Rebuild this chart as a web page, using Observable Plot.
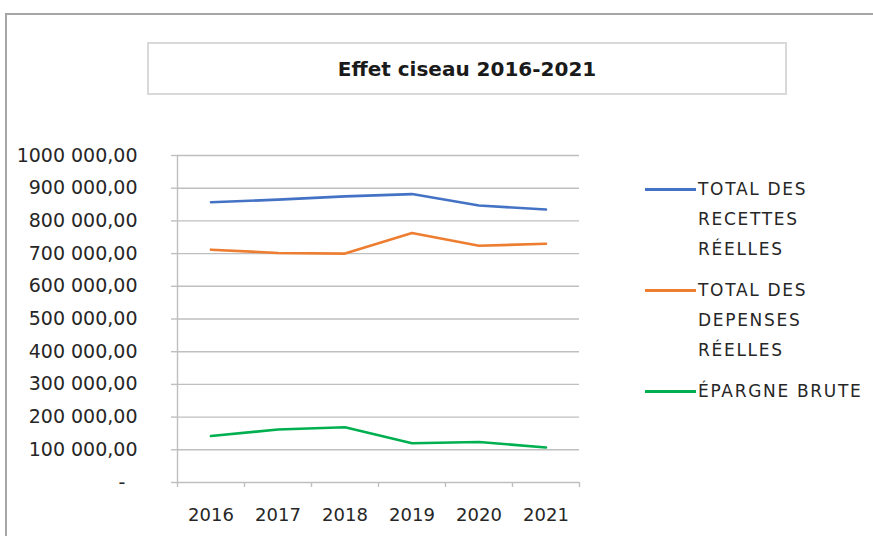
<!DOCTYPE html>
<html>
<head>
<meta charset="utf-8">
<script src="https://cdn.jsdelivr.net/npm/d3@7"></script>
<script src="https://cdn.jsdelivr.net/npm/@observablehq/plot@0.6"></script>
<style>
  html, body { margin: 0; padding: 0; background: #fff; overflow: hidden; width: 873px; height: 536px; }
  #wrap { position: relative; width: 873px; height: 536px; font-family: "DejaVu Sans", sans-serif; }
  #frame { position: absolute; left: 5px; top: 13px; width: 1000px; height: 1000px; border: 2px solid #a6a6a6; box-sizing: border-box; }
  #title { position: absolute; left: 147px; top: 42px; width: 640px; height: 53px; border: 2px solid #d9d9d9; box-sizing: border-box;
           display: flex; align-items: center; justify-content: center; font-weight: bold; font-size: 20px; color: #1a1a1a; }
  #chart { position: absolute; left: 0; top: 0; }
  .leg { position: absolute; left: 645px; }
  .leg .sw { position: absolute; left: 0; width: 51px; height: 3px; }
  .leg .tx { position: absolute; left: 53px; font-size: 17px; letter-spacing: 1.7px; line-height: 30px; color: #262626; white-space: nowrap; }
</style>
</head>
<body>
<div id="wrap">
  <div id="frame"></div>
  <div id="chart"></div>
  <div id="title"></div>
  <div id="legend"></div>
</div>
<script>
const titleText = "Effet ciseau 2016-2021";
const years = [2016, 2017, 2018, 2019, 2020, 2021];
const recettes = [857000, 865000, 875000, 882000, 847000, 835000];
const depenses = [712000, 702000, 700000, 763000, 724000, 730000];
const epargne = [142000, 162000, 169000, 120000, 124000, 107000];
const seriesNames = [["TOTAL DES", "RECETTES", "RÉELLES"], ["TOTAL DES", "DEPENSES", "RÉELLES"], ["ÉPARGNE BRUTE"]];
const seriesColors = ["#4472C4", "#ED7D31", "#00B050"];
const yTicks = [0, 100000, 200000, 300000, 400000, 500000, 600000, 700000, 800000, 900000, 1000000];
const yTickLabels = ["-\u2007", "100 000,00", "200 000,00", "300 000,00", "400 000,00", "500 000,00", "600 000,00", "700 000,00", "800 000,00", "900 000,00", "1000 000,00"];
const xBounds = [2015.5, 2016.5, 2017.5, 2018.5, 2019.5, 2020.5, 2021.5];

document.getElementById("title").textContent = titleText;

const allSeries = [recettes, depenses, epargne];
const data = [];
allSeries.forEach((vals, s) => vals.forEach((v, i) => data.push({year: years[i], value: v, s})));

const chart = Plot.plot({
  width: 873,
  height: 536,
  marginLeft: 177,
  marginRight: 294,
  marginTop: 155,
  marginBottom: 54,
  style: {fontFamily: "DejaVu Sans, sans-serif", fontSize: "18px", color: "#262626", background: "transparent"},
  x: {type: "linear", domain: [2015.5, 2021.5]},
  y: {domain: [0, 1000000]},
  marks: [
    Plot.ruleY(yTicks, {y: d => d, stroke: "#bfbfbf", strokeWidth: 1.4, strokeOpacity: 1}),
    Plot.ruleX([2015.5], {x: d => d, y1: 0, y2: 1000000, stroke: "#bfbfbf", strokeWidth: 1.4}),
    Plot.axisY({ticks: yTicks, tickSize: 6, tickPadding: 34, stroke: "#bfbfbf", strokeWidth: 1.4,
                tickFormat: d => yTickLabels[yTicks.indexOf(d)], fill: "#262626", fontSize: 19, label: null}),
    Plot.axisX({ticks: xBounds, tickSize: 5, tickFormat: () => "", stroke: "#bfbfbf", strokeWidth: 1.4, label: null}),
    Plot.axisX({ticks: years, tickSize: 0, tickPadding: 26, tickFormat: d => String(d), fill: "#262626", fontSize: 18, label: null}),
    Plot.line(data, {x: "year", y: "value", z: "s", stroke: d => seriesColors[d.s], strokeWidth: 2.6})
  ]
});
document.getElementById("chart").appendChild(chart);

// Legend
const legendTops = [189, 290, 391];
const legend = document.getElementById("legend");
seriesNames.forEach((lines, i) => {
  const g = document.createElement("div");
  g.className = "leg";
  g.style.top = legendTops[i] + "px";
  const sw = document.createElement("div");
  sw.className = "sw";
  sw.style.top = "-1.5px";
  sw.style.background = seriesColors[i];
  g.appendChild(sw);
  const tx = document.createElement("div");
  tx.className = "tx";
  tx.style.top = "-15px";
  tx.innerHTML = lines.join("<br>");
  g.appendChild(tx);
  legend.appendChild(g);
});
</script>
</body>
</html>
